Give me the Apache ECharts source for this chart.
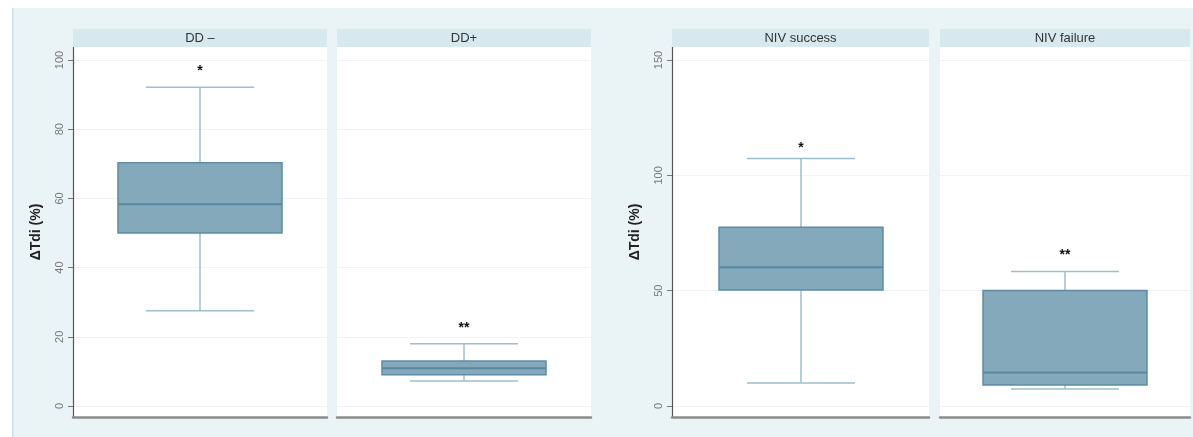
<!DOCTYPE html>
<html>
<head>
<meta charset="utf-8">
<script src="https://cdn.jsdelivr.net/npm/echarts@6/dist/echarts.min.js"></script>
<style>
html,body{margin:0;padding:0;background:#ffffff;}
#chart{width:1193px;height:437px;}
</style>
</head>
<body>
<div id="chart"></div>
<script>
// ---- data ----
const categories   = ['DD –', 'DD+', 'NIV success', 'NIV failure'];
const whiskerLow   = [27.5, 7.2, 10.0, 7.4];
const quartile1    = [50.0, 9.0, 50.3, 9.1];
const medians      = [58.3, 10.9, 60.2, 14.5];
const quartile3    = [70.3, 13.0, 77.5, 50.1];
const whiskerHigh  = [92.1, 18.0, 107.3, 58.3];
const markTexts    = ['*', '**', '*', '**'];
const markValues   = [96.9, 22.5, 111.6, 65.5];
const yTicksLeft   = [0, 20, 40, 60, 80, 100];
const yTicksRight  = [0, 50, 100, 150];
const yAxisTitle   = 'ΔTdi (%)';

// ---- layout / style ----
const grids = [
  {left: 73,  width: 254},
  {left: 337, width: 254},
  {left: 672, width: 257},
  {left: 940, width: 250}
];
const GRID_TOP = 47, GRID_H = 370;
const yRanges = [
  {min: -3.18, max: 103.76, ticks: yTicksLeft},
  {min: -3.18, max: 103.76, ticks: yTicksLeft},
  {min: -4.77, max: 155.64, ticks: yTicksRight},
  {min: -4.77, max: 155.64, ticks: yTicksRight}
];
const BOX_W = 164, CAP_W = 108;
const BOX_FILL = '#83a9bb', BOX_EDGE = '#5f8ca4', WHISK = '#9fbecd', MED = '#5a879f';
const FONT = '"Liberation Sans", Arial, sans-serif';

function renderBox(params, api) {
  const c = api.value(0);
  const pLow = api.coord([c, api.value(1)]);
  const pQ1 = api.coord([c, api.value(2)]);
  const pMed = api.coord([c, api.value(3)]);
  const pQ3 = api.coord([c, api.value(4)]);
  const pHigh = api.coord([c, api.value(5)]);
  const pMark = api.coord([c, api.value(6)]);
  const x = Math.round(pLow[0]);
  const hb = BOX_W / 2, hc = CAP_W / 2;
  const ls = {stroke: WHISK, lineWidth: 1.5};
  return {
    type: 'group',
    children: [
      {type: 'line', shape: {x1: x, y1: pHigh[1], x2: x, y2: pQ3[1]}, style: ls},
      {type: 'line', shape: {x1: x, y1: pQ1[1], x2: x, y2: pLow[1]}, style: ls},
      {type: 'line', shape: {x1: x - hc, y1: pHigh[1], x2: x + hc, y2: pHigh[1]}, style: ls},
      {type: 'line', shape: {x1: x - hc, y1: pLow[1], x2: x + hc, y2: pLow[1]}, style: ls},
      {type: 'rect', shape: {x: x - hb, y: pQ3[1], width: BOX_W, height: pQ1[1] - pQ3[1]},
       style: {fill: BOX_FILL, stroke: BOX_EDGE, lineWidth: 1.5}},
      {type: 'line', shape: {x1: x - hb, y1: pMed[1], x2: x + hb, y2: pMed[1]},
       style: {stroke: MED, lineWidth: 2}},
      {type: 'text', x: x, y: pMark[1],
       style: {text: api.value(7), fill: '#111', font: 'bold 14px ' + FONT,
               align: 'center', verticalAlign: 'middle'}}
    ]
  };
}

const option = {
  animation: false,
  backgroundColor: '#ffffff',
  graphic: [
    {type: 'rect', left: 13, top: 8, shape: {width: 1180, height: 429},
     style: {fill: '#eaf4f6'}, z: -10},
    {type: 'rect', left: 12, top: 8, shape: {width: 1.5, height: 429},
     style: {fill: '#cfdfe3'}, z: -9}
  ],
  grid: grids.map(g => ({
    left: g.left, width: g.width, top: GRID_TOP, height: GRID_H,
    show: true, backgroundColor: '#ffffff', borderWidth: 0
  })),
  xAxis: [].concat(
    grids.map((g, i) => ({
      type: 'category', gridIndex: i, data: [categories[i]], position: 'bottom',
      axisLine: {show: true, onZero: false, lineStyle: {color: '#8c8c8c', width: 2.5}},
      axisTick: {show: false}, axisLabel: {show: false}, splitLine: {show: false}
    })),
    grids.map((g, i) => ({
      type: 'category', gridIndex: i, data: [categories[i]], position: 'top',
      axisLine: {show: false, onZero: false}, axisTick: {show: false}, splitLine: {show: false},
      axisLabel: {
        show: true, margin: 0, interval: 0,
        color: '#333', fontFamily: FONT, fontSize: 13,
        backgroundColor: '#d7e9ee', width: g.width, height: 18, lineHeight: 18,
        align: 'center', verticalAlign: 'bottom'
      }
    }))
  ),
  yAxis: grids.map((g, i) => {
    const r = yRanges[i];
    const first = (i === 0 || i === 2);
    return {
      type: 'value', gridIndex: i, min: r.min, max: r.max,
      name: first ? yAxisTitle : '', nameLocation: 'middle', nameGap: 30,
      nameTextStyle: {color: '#222', fontWeight: 'bold', fontSize: 14, fontFamily: FONT},
      axisLine: {show: first, onZero: false, lineStyle: {color: '#555', width: 1.2}},
      axisTick: {show: first, length: 5, lineStyle: {color: '#777'}, customValues: r.ticks},
      axisLabel: {show: first, rotate: 90, color: '#777', fontSize: 11, fontFamily: FONT,
                  margin: 8, customValues: r.ticks},
      splitLine: {show: true, lineStyle: {color: '#eef4f6', width: 1}}
    };
  }),
  series: categories.map((c, i) => ({
    type: 'custom', xAxisIndex: i, yAxisIndex: i,
    renderItem: renderBox,
    encode: {x: 0, y: [1, 2, 3, 4, 5, 6]},
    data: [[0, whiskerLow[i], quartile1[i], medians[i], quartile3[i], whiskerHigh[i], markValues[i], markTexts[i]]]
  }))
};

const chart = echarts.init(document.getElementById('chart'), null, {renderer: 'canvas'});
chart.setOption(option);
</script>
</body>
</html>
